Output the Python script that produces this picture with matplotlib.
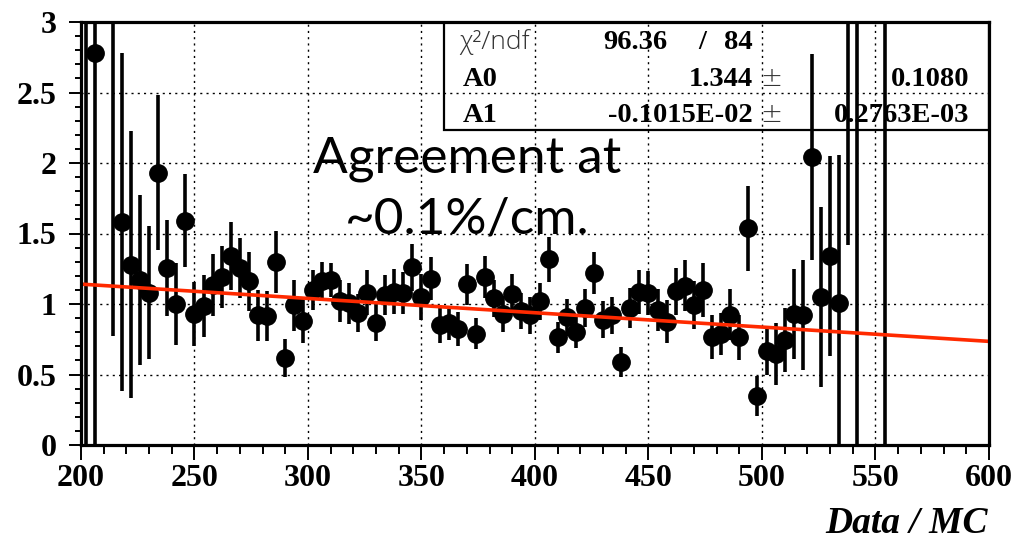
import matplotlib
matplotlib.use('Agg')
import matplotlib.pyplot as plt
from matplotlib.ticker import MultipleLocator, FuncFormatter
from matplotlib.patches import Rectangle

# bin centres and Data/MC ratio with errors
bin_x = [202, 206, 214, 218, 222, 226, 230, 234, 238, 242, 246, 250, 254, 258,
         262, 266, 270, 274, 278, 282, 286, 290, 294, 298, 302, 306, 310, 314,
         318, 322, 326, 330, 334, 338, 342, 346, 350, 354, 358, 362, 366, 370,
         374, 378, 382, 386, 390, 394, 398, 402, 406, 410, 414, 418, 422, 426,
         430, 434, 438, 442, 446, 450, 454, 458, 462, 466, 470, 474, 478, 482,
         486, 490, 494, 498, 502, 506, 510, 514, 518, 522, 526, 530, 534, 538,
         542, 554]
ratio = [4.0, 2.78, 4.2, 1.58, 1.28, 1.17, 1.08, 1.93, 1.255, 1.00, 1.59, 0.93,
         0.985, 1.135, 1.19, 1.34, 1.255, 1.16, 0.92, 0.915, 1.295, 0.615, 0.99,
         0.88, 1.10, 1.165, 1.17, 1.02, 1.005, 0.934, 1.08, 0.867, 1.064, 1.087,
         1.076, 1.26, 1.05, 1.18, 0.85, 0.863, 0.82, 1.14, 0.79, 1.19, 1.04,
         0.93, 1.07, 0.95, 0.92, 1.02, 1.317, 0.764, 0.905, 0.80, 0.97, 1.22,
         0.89, 0.92, 0.59, 0.97, 1.087, 1.076, 0.957, 0.875, 1.09, 1.13, 0.99,
         1.10, 0.765, 0.787, 0.925, 0.765, 1.537, 0.347, 0.669, 0.645, 0.745,
         0.93, 0.92, 2.04, 1.05, 1.34, 1.01, 3.8, 4.0, 4.0]
ratio_err = [5.0, 3.5, 3.43, 1.2, 0.95, 0.6, 0.47, 0.55, 0.34, 0.29, 0.33, 0.225,
             0.22, 0.22, 0.22, 0.24, 0.21, 0.21, 0.18, 0.18, 0.22, 0.135, 0.18,
             0.16, 0.14, 0.13, 0.12, 0.15, 0.145, 0.135, 0.16, 0.13, 0.145, 0.16,
             0.15, 0.165, 0.16, 0.155, 0.13, 0.12, 0.12, 0.145, 0.11, 0.15, 0.13,
             0.13, 0.14, 0.125, 0.13, 0.13, 0.16, 0.11, 0.13, 0.115, 0.135, 0.15,
             0.13, 0.13, 0.105, 0.14, 0.155, 0.155, 0.15, 0.15, 0.165, 0.18, 0.17,
             0.19, 0.155, 0.15, 0.18, 0.16, 0.3, 0.14, 0.17, 0.22, 0.23,
             0.32, 0.39, 0.73, 0.64, 0.71, 1.05, 2.38, 5.0, 5.0]

# fit result p0 + p1*x
A0, A0_err = 1.344, 0.1080
A1, A1_err = -0.1015e-02, 0.2763e-03
chi2, ndf = 96.36, 84

fig = plt.figure(figsize=(10.16, 5.39), dpi=100)
ax = fig.add_axes([81 / 1016, 1 - 445 / 539, 908 / 1016, 423 / 539])

ax.errorbar(bin_x, ratio, yerr=ratio_err, fmt='o', color='black', ms=12.5,
            elinewidth=2.6, capsize=0, zorder=4)
fx = [200, 600]
ax.plot(fx, [A0 + A1 * v for v in fx], color='#ff2a00', lw=2.6, zorder=5)

ax.set_xlim(200, 600)
ax.set_ylim(0, 3)
ax.xaxis.set_major_locator(MultipleLocator(50))
ax.xaxis.set_minor_locator(MultipleLocator(10))
ax.yaxis.set_major_locator(MultipleLocator(0.5))
ax.yaxis.set_minor_locator(MultipleLocator(0.1))
ax.yaxis.set_major_formatter(FuncFormatter(lambda v, p: '%g' % v))
ax.grid(True, which='major', color='black', ls=(0, (1.5, 3)), lw=1.0)
ax.set_axisbelow(True)
for s in ax.spines.values():
    s.set_linewidth(2.3)
    s.set_zorder(6)

ax.tick_params(axis='x', which='major', direction='out', length=11, width=1.4, pad=3)
ax.tick_params(axis='x', which='minor', direction='out', length=6.5, width=1.4)
ax.tick_params(axis='y', which='major', direction='out', length=8.5, width=1.4, pad=9)
ax.tick_params(axis='y', which='minor', direction='out', length=4.3, width=1.4)
for lab in ax.get_xticklabels() + ax.get_yticklabels():
    lab.set_fontfamily('Liberation Serif')
    lab.set_fontweight('bold')
    lab.set_fontsize(23)

fig.text(988 / 1016, 1 - 533 / 539, 'Data / MC', ha='right', va='baseline',
         family='Liberation Serif', weight='bold', style='italic', fontsize=27)


# stats box (outline only, grid and bars show through)
def fx_(px):
    return (px - 81) / 908


def fy_(py):
    return (445 - py) / 423


ax.add_patch(Rectangle((fx_(443.5), fy_(130)), fx_(989) - fx_(443.5), fy_(22) - fy_(130),
                       transform=ax.transAxes, fill=False, ec='black', lw=1.6, zorder=3))
bold = dict(family='Liberation Serif', weight='bold', fontsize=20.5,
            transform=ax.transAxes, va='baseline', zorder=2)
ax.text(fx_(459), fy_(49), 'χ²/ndf', transform=ax.transAxes, va='baseline',
        family=['Open Sans', 'DejaVu Sans'], weight='light', fontsize=19,
        color='#333333', zorder=2)
ax.text(fx_(603), fy_(49), '%.2f' % chi2, ha='left', **bold)
ax.text(fx_(702), fy_(49), '/', ha='center', **bold)
ax.text(fx_(753), fy_(49), '%d' % ndf, ha='right', **bold)
rows = [('A0', '%.3f' % A0, '%.4f' % A0_err, 86),
        ('A1', '-0.1015E-02', '0.2763E-03', 122)]
for name, val, err, py in rows:
    ax.text(fx_(463), fy_(py), name, ha='left', **bold)
    ax.text(fx_(753), fy_(py), val, ha='right', **bold)
    ax.text(fx_(760), fy_(py), '±', ha='left', transform=ax.transAxes, va='baseline',
            family='DejaVu Sans', weight='light', fontsize=19, color='#333333', zorder=2)
    ax.text(fx_(969), fy_(py), err, ha='right', **bold)

note = dict(transform=ax.transAxes, ha='center', va='baseline',
            family='Lato', weight='normal', fontsize=37, zorder=2)
ax.text(fx_(467), fy_(173), 'Agreement at', **note)
ax.text(fx_(467), fy_(233), '~0.1%/cm.', **note)

plt.savefig('out.png', dpi=100)
